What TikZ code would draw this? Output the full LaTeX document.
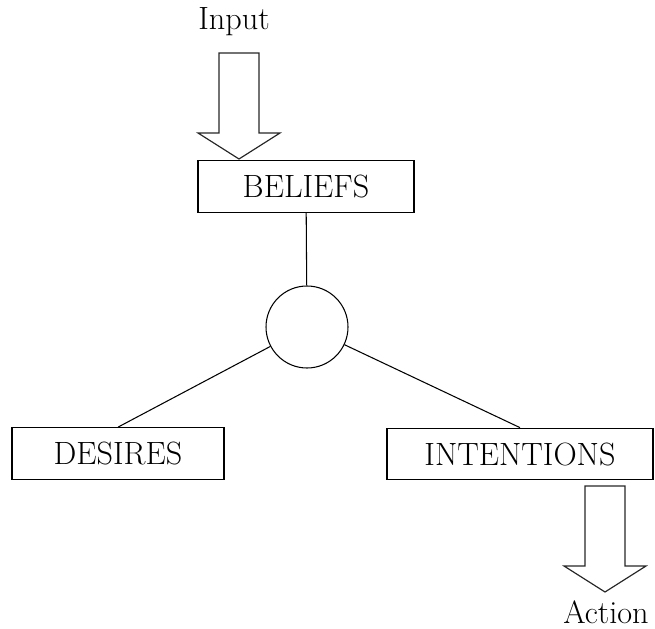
\documentclass[tikz,border=0pt]{standalone}
\usepackage{fontspec}
\usetikzlibrary{positioning}
\tikzset{
x=0.03cm, y=-0.03cm, % one unit is one step on the sheet, y runs downwards
every node/.style={font=\fontsize{27.5}{32}\selectfont},
box/.style={draw, line width=0.9pt, minimum height=1.55cm, inner sep=0pt},
hub/.style={draw, circle, line width=0.9pt, minimum size=2.46cm, inner sep=0pt},
link/.style={line width=0.9pt},
% hollow block arrow, tip at the origin of the pic
flow/.pic={
  \draw[line width=1pt, draw=black!85, line join=miter]
    (0,0) -- (-41,-26) -- (-20,-26) -- (-20,-106) -- (20,-106)
    -- (20,-26) -- (41,-26) -- cycle;
}
}

\begin{document}
\begin{tikzpicture}
		\useasboundingbox (0,0) rectangle (655,629);
		\node[box, minimum width=6.48cm] (beliefs) at (306,186.5) {BELIEFS};
		\node[hub] (circ) at (307,327) {};
		\node[box, minimum width=6.36cm] (desires) at (118,453.5) {DESIRES};
		\node[box, minimum width=7.98cm] (intentions) at (520,454) {INTENTIONS};
		\node[anchor=base] (input) at (234,30) {Input};
		\node[anchor=base] (action) at (606,623) {Action};
		\coordinate (intip) at (239,159);
		\coordinate (acttip) at (605,592);
		\path (intip) pic {flow};
		\path (acttip) pic {flow};
		\draw[link] (beliefs) -- (circ);
		\draw[link] (circ) -- (desires.north);
		\draw[link] (circ) -- (intentions.north);
\end{tikzpicture}
\end{document}
